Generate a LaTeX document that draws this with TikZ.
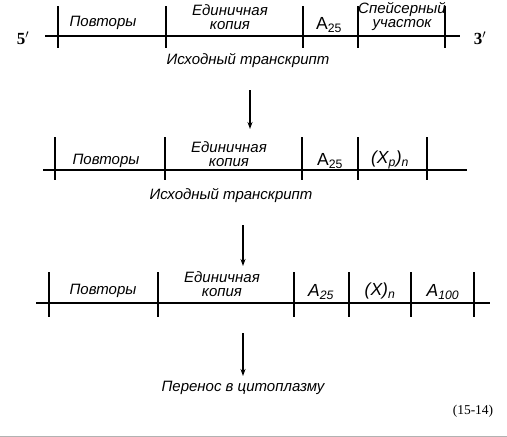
\documentclass[tikz,border=0pt]{standalone}
\usepackage{fontspec}
\setmainfont{Liberation Sans}
\newfontfamily\serifnum{Liberation Serif}
\usetikzlibrary{arrows.meta}
\begin{document}
\begin{tikzpicture}[x=1pt,y=-1pt,
  strand/.style={line width=1.1pt},
  tick/.style={line width=1.4pt},
  lbl/.style={font=\fontsize{15}{14}\selectfont\itshape, inner sep=0pt, align=center},
  sym/.style={font=\fontsize{17.5}{18}\selectfont\itshape, inner sep=0pt},
  flow/.style={line width=1.3pt,-{Stealth[length=7pt,width=5pt]}},
  endlbl/.style={font=\fontsize{17}{18}\selectfont\serifnum\bfseries, inner sep=0pt}]
\useasboundingbox (0,0) rectangle (507,437);
% ---------- row 1
\coordinate (r1a) at (45,36);
\coordinate (r1b) at (460,36);
\draw[strand] (r1a) -- (r1b);
\foreach \x in {58,166,303,358,445}
  \draw[tick] (\x,6) -- (\x,48);
\node[endlbl] (p5) at (23,38) {5$'$};
\node[endlbl] (p3) at (480,38) {3$'$};
\node[lbl] (l1a) at (103,23) {Повторы};
\node[lbl] (l1b) at (230,17) {Единичная\\копия};
\node[sym] (l1c) at (329,25) {\textup{A\textsubscript{25}}};
\node[lbl] (l1d) at (402,17) {Спейсерный\\участок};
\node[lbl] (t1) at (248,61) {Исходный транскрипт};
% ---------- arrow 1
\coordinate (a1s) at (250,90);
\coordinate (a1e) at (250,129);
\draw[flow] (a1s) -- (a1e);
% ---------- row 2
\coordinate (r2a) at (43,170);
\coordinate (r2b) at (467,170);
\draw[strand] (r2a) -- (r2b);
\foreach \x in {55,165,302,358,427}
  \draw[tick] (\x,137) -- (\x,180);
\node[lbl] (l2a) at (106,161) {Повторы};
\node[lbl] (l2b) at (229,154) {Единичная\\копия};
\node[sym] (l2c) at (330,161) {\textup{A\textsubscript{25}}};
\node[sym] (l2d) at (390,160) {(\textit{X}\textsubscript{\textit{p}})\textsubscript{\textit{n}}};
\node[lbl] (t2) at (231,196) {Исходный транскрипт};
% ---------- arrow 2
\coordinate (a2s) at (243,225);
\coordinate (a2e) at (243,266);
\draw[flow] (a2s) -- (a2e);
% ---------- row 3
\coordinate (r3a) at (36,303);
\coordinate (r3b) at (490,303);
\draw[strand] (r3a) -- (r3b);
\foreach \x in {49,158,294,349,411,474}
  \draw[tick] (\x,272) -- (\x,317);
\node[lbl] (l3a) at (103,291) {Повторы};
\node[lbl] (l3b) at (222,284) {Единичная\\копия};
\node[sym] (l3c) at (321,292) {A\textsubscript{25}};
\node[sym] (l3d) at (380,291) {(\textit{X})\textsubscript{\textit{n}}};
\node[sym] (l3e) at (443,292) {A\textsubscript{100}};
% ---------- arrow 3
\coordinate (a3s) at (243,333);
\coordinate (a3e) at (243,376);
\draw[flow] (a3s) -- (a3e);
\node[lbl] (t3) at (243,388) {Перенос в цитоплазму};
\node[font=\fontsize{13.5}{14}\selectfont\serifnum, inner sep=0pt] (fig) at (473,411) {(15-14)};
% bottom rule
\coordinate (bl) at (0,436);
\coordinate (br) at (507,436);
\draw[line width=0.8pt, gray!60] (bl) -- (br);
\end{tikzpicture}
\end{document}
